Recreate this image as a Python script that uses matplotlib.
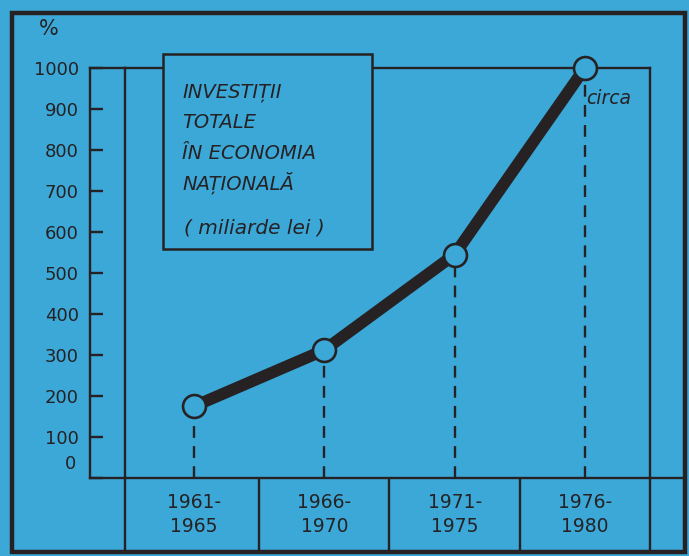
import matplotlib.pyplot as plt
from matplotlib.patches import Rectangle
from matplotlib.lines import Line2D

# data
periods = ['1961-\n1965', '1966-\n1970', '1971-\n1975', '1976-\n1980']
invest = [175, 312, 545, 1000]
yticks = [0, 100, 200, 300, 400, 500, 600, 700, 800, 900, 1000]
title_lines = ['INVESTIȚII', 'TOTALE', 'ÎN ECONOMIA', 'NAȚIONALĂ']
unit_text = '( miliarde lei )'

bg = '#3ba8d8'
ink = '#262224'
W, H = 689, 556

fig = plt.figure(figsize=(W / 100, H / 100), dpi=100)
fig.patch.set_facecolor(bg)

def fx(px):
    return px / W

def fy(py):
    return 1 - py / H

# main axes: x 125..650 px, y 68 (1000) .. 478 (0) px
ax = fig.add_axes([fx(125), fy(478), fx(650) - fx(125), fy(68) - fy(478)])
ax.set_facecolor('none')
ax.set_xlim(-0.53, 3.5)
ax.set_ylim(0, 1000)
for s in ax.spines.values():
    s.set_color(ink)
    s.set_linewidth(1.7)
ax.set_yticks([])
x = list(range(len(periods)))
ax.set_xticks(x)
ax.set_xticklabels(periods, fontsize=13.5, color=ink, linespacing=1.3)
ax.tick_params(axis='x', length=0, pad=11)

# dashed drops
ax.vlines(x, 0, invest, colors=ink, linestyles=(0, (5, 3.5)), linewidth=1.7)
ax.plot(x, invest, color=ink, lw=8.5, solid_capstyle='round', zorder=3)
ax.plot(x, invest, 'o', ms=16.5, mfc=bg, mec=ink, mew=1.9, zorder=4, clip_on=False)
ax.annotate('circa', (x[-1], invest[-1]), xytext=(1, -22), textcoords='offset points',
            ha='left', va='center', fontsize=13.5, style='italic', color=ink)

# table cell separators under the axis
xt = ax.get_xaxis_transform()
bottom = -(551 - 478) / (478 - 68)
ax.vlines([-0.53, 0.5, 1.5, 2.5, 3.5], bottom, 0, colors=ink, linewidth=1.7,
          transform=xt, clip_on=False)
fig.add_artist(Line2D([fx(650), fx(684)], [fy(478), fy(478)], color=ink, lw=1.7))

# left strip with the percent scale
axl = fig.add_axes([fx(90), fy(478), fx(125) - fx(90), fy(68) - fy(478)])
axl.set_facecolor('none')
axl.set_xlim(0, 1)
axl.set_ylim(0, 1000)
axl.spines['right'].set_visible(False)
for s in ['left', 'top', 'bottom']:
    axl.spines[s].set_color(ink)
    axl.spines[s].set_linewidth(1.7)
axl.set_xticks([])
axl.set_yticks(yticks)
axl.set_yticklabels([str(v) if v else '' for v in yticks], fontsize=13, color=ink)
axl.tick_params(axis='y', direction='in', length=9.5, width=1.7, color=ink, pad=8)
axl.annotate('0', (0, 0), xytext=(-14, 10), textcoords='offset points',
             ha='center', va='center', fontsize=13, color=ink)
axl.annotate('%', (0, 1000), xytext=(-30, 28), textcoords='offset points',
             ha='center', va='center', fontsize=15, color=ink)

# title box
fig.add_artist(Rectangle((fx(163), fy(249)), fx(372) - fx(163), fy(54) - fy(249),
                         transform=fig.transFigure, facecolor=bg, edgecolor=ink,
                         lw=1.8, zorder=5))
for i, t in enumerate(title_lines):
    fig.text(fx(182), fy(93 + i * 30), t, fontsize=14, style='italic',
             color=ink, ha='left', va='center', zorder=6)
fig.text(fx(184), fy(228), unit_text, fontsize=14.5, style='italic',
         color=ink, ha='left', va='center', zorder=6)

# outer frame
fig.add_artist(Rectangle((fx(12), fy(552)), fx(685) - fx(12), fy(13) - fy(552),
                         transform=fig.transFigure, facecolor='none',
                         edgecolor=ink, lw=3.2))

fig.savefig('out.png', dpi=100, facecolor=bg)
